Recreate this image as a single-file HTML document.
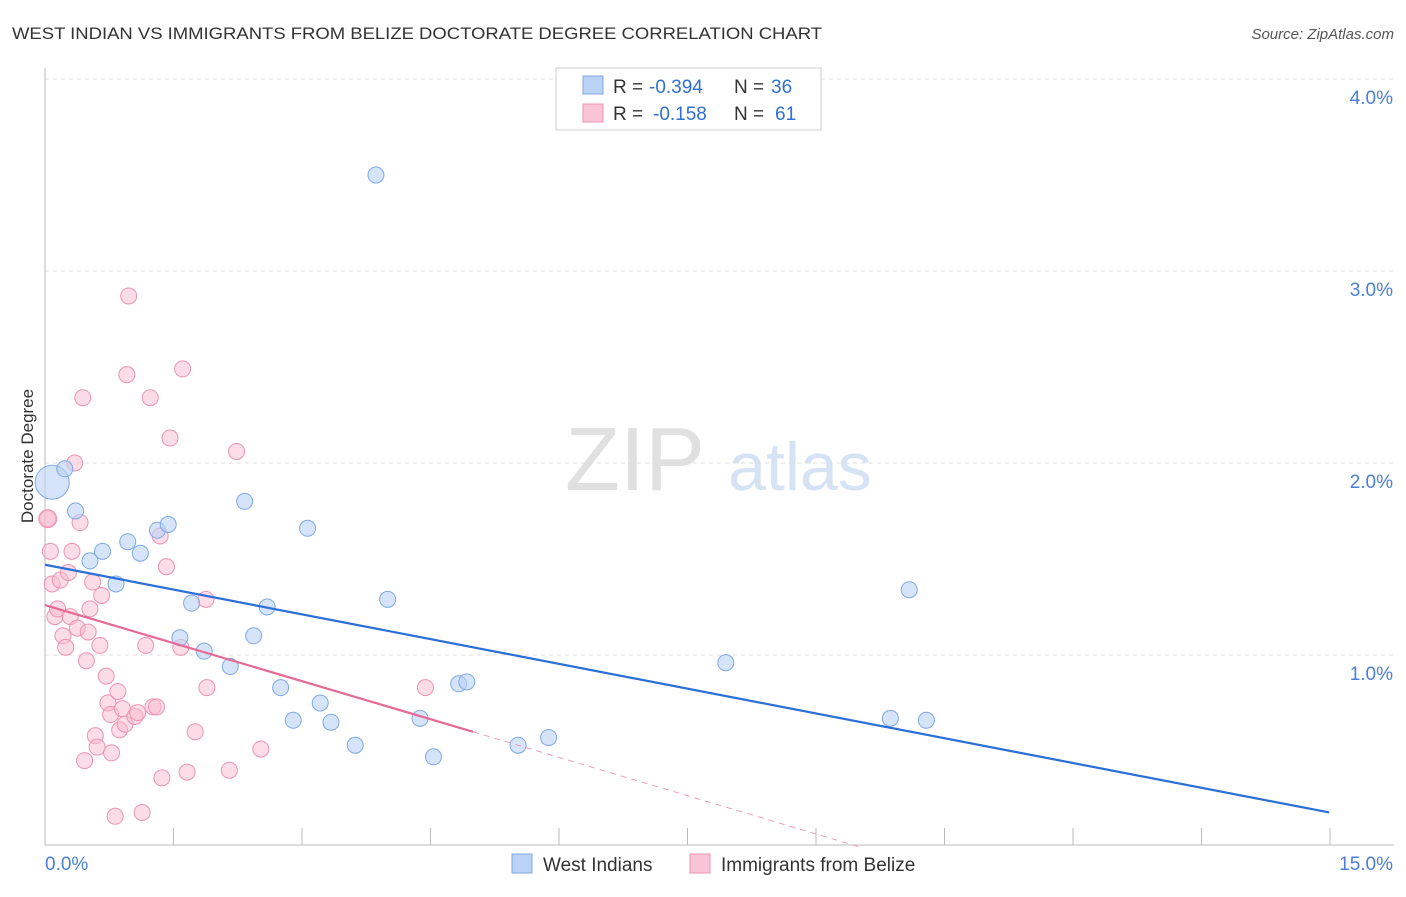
<!DOCTYPE html>
<html><head><meta charset="utf-8"><style>
body{margin:0;background:#fff;font-family:"Liberation Sans",sans-serif}
svg text{font-family:"Liberation Sans",sans-serif}
</style></head><body>
<svg id="c" width="1406" height="892">
<text x="12" y="39" font-size="17" fill="#333" textLength="810" lengthAdjust="spacingAndGlyphs">WEST INDIAN VS IMMIGRANTS FROM BELIZE DOCTORATE DEGREE CORRELATION CHART</text>
<text x="1394" y="39" font-size="15" fill="#555" font-style="italic" text-anchor="end">Source: ZipAtlas.com</text>
<text x="33" y="456" font-size="17" fill="#333" transform="rotate(-90 33 456)" text-anchor="middle">Doctorate Degree</text>
<text x="635" y="490" font-size="90" fill="#e0e0e0" font-family="Liberation Serif" text-anchor="middle">ZIP</text>
<text x="800" y="490" font-size="68" fill="#d5e3f5" text-anchor="middle">atlas</text>
<g id="g"></g>
<g>
<rect x="556" y="68" width="265" height="62" fill="#fff" stroke="#ccc"/>
<rect x="583" y="76" width="20" height="18" fill="#b9d2f5" stroke="#7fa9e6"/>
<rect x="583" y="104" width="20" height="18" fill="#f9c4d5" stroke="#ef93b1"/>
<text y="93" font-size="19" fill="#333"><tspan x="613">R =</tspan><tspan x="649" fill="#2f6fd6">-0.394</tspan><tspan x="734">N =</tspan><tspan x="771" fill="#2f6fd6">36</tspan></text>
<text y="120" font-size="19" fill="#333"><tspan x="613">R =</tspan><tspan x="653" fill="#2f6fd6">-0.158</tspan><tspan x="734">N =</tspan><tspan x="775" fill="#2f6fd6">61</tspan></text>
</g>
<g>
<rect x="512" y="854" width="20" height="19" fill="#b9d2f5" stroke="#7fa9e6"/>
<text x="543" y="871" font-size="19" fill="#333">West Indians</text>
<rect x="690" y="854" width="20" height="19" fill="#f9c4d5" stroke="#ef93b1"/>
<text x="721" y="871" font-size="19" fill="#333">Immigrants from Belize</text>
</g>
</svg>
<script>
const xTicks=[0,15];
const yTicks=[1,2,3,4];
const blueX=[0.08,0.22,0.34,0.50,0.64,0.79,0.92,1.06,1.25,1.37,1.63,1.50,1.77,2.06,2.22,2.32,2.47,2.62,2.76,2.92,3.06,3.18,3.45,3.68,3.81,4.17,4.32,4.60,4.69,5.26,5.60,7.57,9.61,9.40,9.80];
const blueY=[1.90,1.97,1.75,1.49,1.54,1.37,1.59,1.53,1.65,1.68,1.27,1.09,1.02,0.94,1.80,1.10,1.25,0.83,0.66,1.66,0.75,0.65,0.53,3.50,1.29,0.67,0.47,0.85,0.86,0.53,0.57,0.96,1.34,0.67,0.66];
const pinkX=[0.03,0.06,0.08,0.11,0.14,0.17,0.20,0.23,0.26,0.28,0.30,0.33,0.36,0.39,0.42,0.44,0.46,0.48,0.50,0.53,0.56,0.58,0.61,0.63,0.68,0.70,0.73,0.74,0.78,0.81,0.83,0.86,0.89,0.91,0.93,1.00,1.03,1.08,1.12,1.17,1.20,1.24,1.28,1.30,1.35,1.39,1.51,1.53,1.58,1.67,1.79,1.80,2.05,2.13,2.40,4.23,0.03];
const pinkY=[1.71,1.54,1.37,1.20,1.24,1.39,1.10,1.04,1.43,1.20,1.54,2.00,1.14,1.69,2.34,0.45,0.97,1.12,1.24,1.38,0.58,0.52,1.05,1.31,0.89,0.75,0.69,0.49,0.16,0.81,0.61,0.72,0.64,2.46,2.87,0.68,0.70,0.18,1.05,2.34,0.73,0.73,1.62,0.36,1.46,2.13,1.04,2.49,0.39,0.60,1.29,0.83,0.40,2.06,0.51,0.83,1.71];
const X=v=>45+v/15*1349, Y=v=>847-v*192;
const NS='http://www.w3.org/2000/svg', g=document.getElementById('g');
function mk(t,a){const e=document.createElementNS(NS,t);for(const k in a)e.setAttribute(k,a[k]);g.appendChild(e);return e;}
yTicks.forEach(t=>{
 const l=mk('line',{x1:45,x2:1394,y1:Y(t),y2:Y(t),stroke:'#ddd','stroke-dasharray':'4,4'});
 
 
 const tx=mk('text',{x:1393,y:Y(t)+25,'font-size':19,fill:'#4a7fd6','text-anchor':'end'});tx.textContent=t.toFixed(1)+'%';
 
 
});
mk('line',{x1:45,x2:45,y1:68,y2:845,stroke:'#bbb'});
mk('line',{x1:45,x2:1394,y1:845,y2:845,stroke:'#bbb'});
for(let i=1;i<=10;i++){const t=mk('line',{x1:45+i*128.5,x2:45+i*128.5,y1:828,y2:845,stroke:'#bbb'});
 
 }
xTicks.forEach((t,i)=>{const tx=mk('text',{x:i?1393:45,y:870,'font-size':19,fill:'#4a7fd6','text-anchor':i?'end':'start'});tx.textContent=t.toFixed(1)+'%';
 
 });
pinkX.forEach((x,i)=>{const c=mk('circle',{cx:X(x),cy:Y(pinkY[i]),r:i==pinkX.length-1?9:8,fill:'rgba(249,185,205,0.5)',stroke:'#ec94b2','stroke-width':1});
 
 });
blueX.forEach((x,i)=>{const c=mk('circle',{cx:X(x),cy:Y(blueY[i]),r:i==0?17:8,fill:'rgba(185,210,245,0.6)',stroke:'#7fa9e6','stroke-width':1});
 
 });
const bl=mk('line',{x1:X(0),y1:Y(1.47),x2:X(14.28),y2:Y(0.18),stroke:'#2a6fd8','stroke-width':2.2});


const pl=mk('line',{x1:X(0),y1:Y(1.26),x2:X(4.76),y2:Y(0.60),stroke:'#e56a95','stroke-width':2.2});


const pd=mk('line',{x1:X(4.76),y1:Y(0.60),x2:X(9.06),y2:Y(0.0),stroke:'#eaa0ba','stroke-width':1,'stroke-dasharray':'6,5'});


</script>
</body></html>
